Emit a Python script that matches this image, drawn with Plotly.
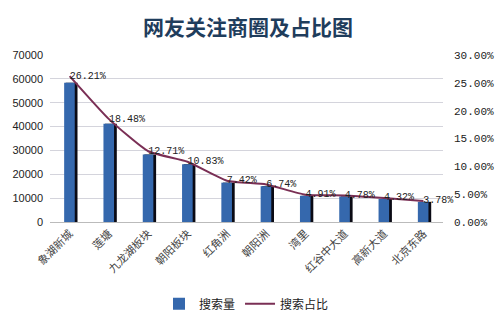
import plotly.graph_objects as go

categories = ["象湖新城", "莲塘", "九龙湖板块", "朝阳板块", "红角洲", "朝阳洲", "湾里", "红谷中大道", "高新大道", "北京东路"]
search_volume = [58400, 41200, 28300, 24200, 16500, 15000, 11000, 10700, 9650, 8450]
search_share = [0.2621, 0.1848, 0.1271, 0.1083, 0.0742, 0.0674, 0.0491, 0.0478, 0.0432, 0.0378]
share_labels = [f"{v*100:.2f}%" for v in search_share]

fig = go.Figure()
# shadow of the bars
fig.add_trace(go.Bar(x=categories, y=search_volume, width=0.3, offset=-0.1,
                     marker=dict(color="#0a0a14", line_width=0), showlegend=False, hoverinfo="skip"))
fig.add_trace(go.Bar(x=categories, y=search_volume, name="搜索量", width=0.27, offset=-0.14,
                     marker=dict(color="#3568ad", line_width=0)))
fig.add_trace(go.Scatter(x=categories, y=search_share, name="搜索占比", yaxis="y2",
                         mode="lines+text", text=share_labels, textposition="middle right",
                         cliponaxis=False,
                         textfont=dict(family="Liberation Mono", size=10, color="#222"),
                         line=dict(color="#7a2f55", width=2, shape="spline", smoothing=0.5)))

fig.update_layout(
    width=501, height=325,
    margin=dict(l=50, r=58, t=55, b=103, autoexpand=False),
    paper_bgcolor="white", plot_bgcolor="white",
    barmode="overlay",
    title=dict(text="<b>网友关注商圈及占比图</b>", x=0.495, xanchor="center", y=0.915, yanchor="middle",
               font=dict(family="Noto Sans CJK SC", size=21, color="#1f3d5c")),
    font=dict(family="Noto Sans CJK SC", size=11, color="#333"),
    xaxis=dict(tickangle=-45, tickfont=dict(size=11, color="#444"), showline=True, linecolor="#bbb",
               ticks="", showgrid=False, automargin=False),
    yaxis=dict(range=[0, 70000], dtick=10000, showgrid=True, gridcolor="#d4d4dc", gridwidth=1,
               tickfont=dict(family="Liberation Sans", size=11, color="#222"), zeroline=False,
               ticks="", tickformat="d", automargin=False, ticklabelstandoff=6),
    yaxis2=dict(range=[0, 0.30], dtick=0.05, overlaying="y", side="right", tickformat=".2%",
                showgrid=False, tickfont=dict(family="Liberation Mono", size=11, color="#222"),
                zeroline=False, ticks="", automargin=False, ticklabelstandoff=10),
    legend=dict(orientation="h", x=0.5, xanchor="center", y=-0.49, yanchor="middle",
                font=dict(size=12, color="#222"), traceorder="normal"),
    showlegend=True,
)

fig.write_html("out.html")
